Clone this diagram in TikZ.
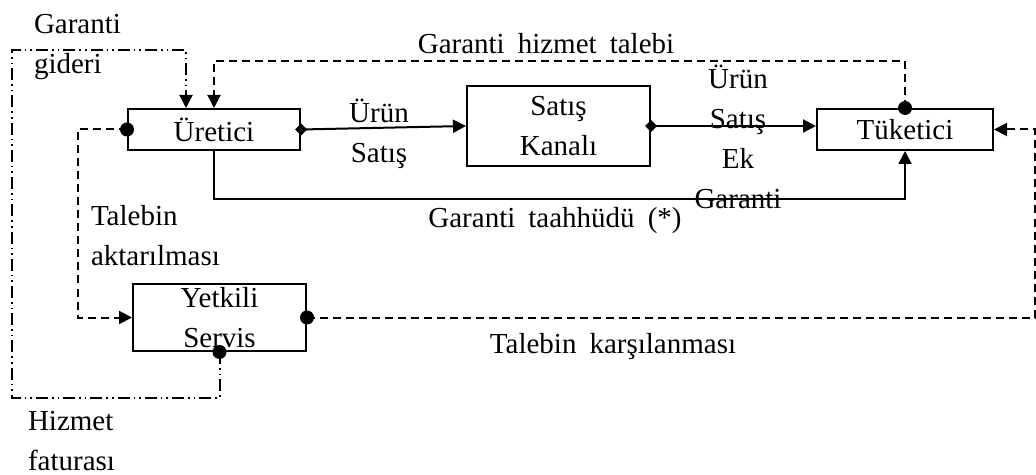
\documentclass[tikz,border=0pt]{standalone}
\usepackage{fontspec}
\setmainfont{Liberation Serif}
\usetikzlibrary{arrows.meta,calc}
\newcommand{\wsp}{\hspace{0.45em}}
\newcommand{\dmd}[1]{\fill (#1) ++(-6,0) -- ++(6,-6) -- ++(6,6) -- ++(-6,6) -- cycle;}

\begin{document}
\begin{tikzpicture}[x=0.5pt, y=-0.5pt, >={Triangle[length=6.5pt,width=6.5pt]}, line width=1pt,
		every node/.style={font=\rmfamily\fontsize{14.5}{20}\selectfont},
		kutu/.style={draw, inner sep=0pt, align=center},
		etiket/.style={inner sep=0pt},
		kesik/.style={dash pattern=on 4pt off 2.5pt},
		noktali/.style={dash pattern=on 6pt off 2pt on 0.8pt off 2pt on 0.8pt off 2pt}]
	\useasboundingbox (0,0) rectangle (1036,475);
	
	% === Kutular ===
	\node[kutu, minimum width=86pt, minimum height=20.5pt] (ure) at (214,129.5) {Üretici};
	\node[kutu, minimum width=91.5pt, minimum height=40pt] (kan) at (558.5,126) {Satış\\Kanalı};
	\node[kutu, minimum width=88pt, minimum height=20.5pt] (tuk) at (905,129.5) {Tüketici};
	\node[kutu, minimum width=86.5pt, minimum height=33.5pt] (yet) at (219.5,317.5) {Yetkili\\Servis};
	
	% ürün akışı
	\draw[->] (ure.east) -- (kan.west);
	\draw[->] (kan.east) -- (kan.east -| tuk.west);
	\draw[->] (ure.south) -- ++(0,48) -| (tuk.south);
	
	% talep akışı
	\draw[kesik, ->] (tuk.north) -- ++(0,-47) -| (ure.north);
	\draw[kesik, ->] (ure.west) -- ++(-49,0) |- (yet.west);
	\draw[kesik, ->] (yet.east) -- (1035,317.5) |- (tuk.east);
	
	% fatura ve gider
	\draw[noktali, ->] (yet.south) |- (12,398) -- (12,50) -| ($(ure.north west)+(59,0)$);
	
	% bağlantı uçları
	\fill (ure.west) circle (3.5pt);
	\fill (tuk.north) circle (3.5pt);
	\fill (yet.east) circle (3.5pt);
	\fill (yet.south) circle (3.5pt);
	\dmd{ure.east}
	\dmd{kan.east}
	
	% === Etiketler ===
	\node[etiket, align=left, anchor=west] (gid) at (33,47) {Garanti\\gideri};
	\node[etiket] (hiz) at (546,44) {Garanti\wsp hizmet\wsp talebi};
	\node[etiket, align=center] (us1) at (379,134) {Ürün\\Satış};
	\node[etiket, align=center] (us2) at (738,137) {Ürün\\Satış\\Ek\\Garanti};
	\node[etiket] (taa) at (555,221) {Garanti\wsp taahhüdü\wsp (*)};
	\node[etiket, align=left, anchor=west] (akt) at (90,236) {Talebin\\aktarılması};
	\node[etiket] (kar) at (613,347) {Talebin\wsp karşılanması};
	\node[etiket, align=left, anchor=west] (fat) at (27,441) {Hizmet\\faturası};
\end{tikzpicture}
\end{document}
